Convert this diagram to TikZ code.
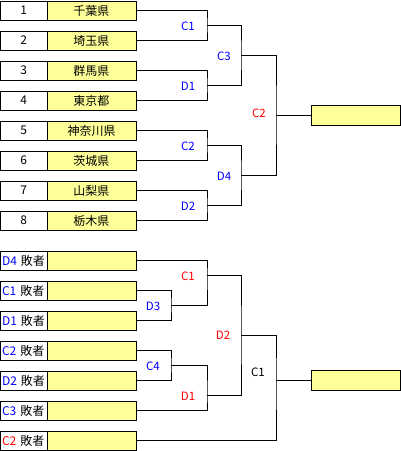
\documentclass[tikz,border=0pt]{standalone}
\usepackage{fontspec}
\setmainfont{Noto Sans CJK JP}
\usepackage{tikz}
\definecolor{cellyellow}{RGB}{255,255,153}
\tikzset{
  numbox/.style={draw,fill=white,minimum width=46.5pt,minimum height=19pt,inner sep=0pt,font=\fontsize{12}{14}\selectfont},
  namebox/.style={numbox,fill=cellyellow,minimum width=89pt},
  lossbox/.style={numbox,text width=43.5pt,inner xsep=1.5pt,align=left},
  winbox/.style={namebox,minimum height=20pt},
  tag/.style={inner sep=0pt,font=\fontsize{11.5}{13}\selectfont}
}
\begin{document}
\begin{tikzpicture}[x=1pt,y=-1pt,line width=0.9pt]
\useasboundingbox (0,0) rectangle (401,451);
\node[numbox] (n1) at (23.75,10.5) {1};
\node[namebox] (p1) at (91.5,10.5) {千葉県};
\node[numbox] (n2) at (23.75,40.5) {2};
\node[namebox] (p2) at (91.5,40.5) {埼玉県};
\node[numbox] (n3) at (23.75,70.5) {3};
\node[namebox] (p3) at (91.5,70.5) {群馬県};
\node[numbox] (n4) at (23.75,100.5) {4};
\node[namebox] (p4) at (91.5,100.5) {東京都};
\node[numbox] (n5) at (23.75,130.5) {5};
\node[namebox] (p5) at (91.5,130.5) {神奈川県};
\node[numbox] (n6) at (23.75,160.5) {6};
\node[namebox] (p6) at (91.5,160.5) {茨城県};
\node[numbox] (n7) at (23.75,190.5) {7};
\node[namebox] (p7) at (91.5,190.5) {山梨県};
\node[numbox] (n8) at (23.75,220.5) {8};
\node[namebox] (p8) at (91.5,220.5) {栃木県};
\node[winbox] (win1) at (355.5,115) {};
\coordinate (c1) at (207,25);
\coordinate (d1) at (207,85);
\coordinate (c2) at (207,145);
\coordinate (d2) at (207,205);
\coordinate (c3) at (241,55);
\coordinate (d4) at (241,175);
\coordinate (final) at (276,115);
\draw (p1.east) -| (c1) |- (p2.east);
\draw (p3.east) -| (d1) |- (p4.east);
\draw (p5.east) -| (c2) |- (p6.east);
\draw (p7.east) -| (d2) |- (p8.east);
\draw (c1) -| (c3) |- (d1);
\draw (c2) -| (d4) |- (d2);
\draw (c3) -| (final) |- (d4);
\draw (final) -- (win1.west);
\node[tag,blue] (tc1) at (188,26) {C1};
\node[tag,blue] (td1) at (188,86) {D1};
\node[tag,blue] (tc2) at (188,146) {C2};
\node[tag,blue] (td2) at (188,206) {D2};
\node[tag,blue] (tc3) at (224,56) {C3};
\node[tag,blue] (td4) at (224,176) {D4};
\node[tag,red] (tfinal) at (259,113) {C2};
\node[lossbox] (l1) at (23.75,260.5) {\textcolor{blue}{D4} 敗者};
\node[namebox] (q1) at (91.5,260.5) {};
\node[lossbox] (l2) at (23.75,290.5) {\textcolor{blue}{C1} 敗者};
\node[namebox] (q2) at (91.5,290.5) {};
\node[lossbox] (l3) at (23.75,320.5) {\textcolor{blue}{D1} 敗者};
\node[namebox] (q3) at (91.5,320.5) {};
\node[lossbox] (l4) at (23.75,350.5) {\textcolor{blue}{C2} 敗者};
\node[namebox] (q4) at (91.5,350.5) {};
\node[lossbox] (l5) at (23.75,380.5) {\textcolor{blue}{D2} 敗者};
\node[namebox] (q5) at (91.5,380.5) {};
\node[lossbox] (l6) at (23.75,410.5) {\textcolor{blue}{C3} 敗者};
\node[namebox] (q6) at (91.5,410.5) {};
\node[lossbox] (l7) at (23.75,440.5) {\textcolor{red}{C2} 敗者};
\node[namebox] (q7) at (91.5,440.5) {};
\node[winbox] (win2) at (355.5,380) {};
\coordinate (bd3) at (171,305);
\coordinate (bc4) at (171,365);
\coordinate (bc1) at (207,275);
\coordinate (bd1) at (207,395);
\coordinate (bd2) at (241,335);
\coordinate (bfinal) at (276,380);
\draw (q2.east) -| (bd3) |- (q3.east);
\draw (q4.east) -| (bc4) |- (q5.east);
\draw (q1.east) -| (bc1) |- (bd3);
\draw (bc4) -| (bd1) |- (q6.east);
\draw (bc1) -| (bd2) |- (bd1);
\draw (bd2) -| (bfinal) |- (q7.east);
\draw (bfinal) -- (win2.west);
\node[tag,blue] (bt3) at (153,306) {D3};
\node[tag,blue] (bt4) at (153,366) {C4};
\node[tag,red] (bt1) at (188,276) {C1};
\node[tag,red] (bt5) at (188,396) {D1};
\node[tag,red] (bt2) at (223,335) {D2};
\node[tag] (btfinal) at (258,372) {C1};
\end{tikzpicture}
\end{document}
